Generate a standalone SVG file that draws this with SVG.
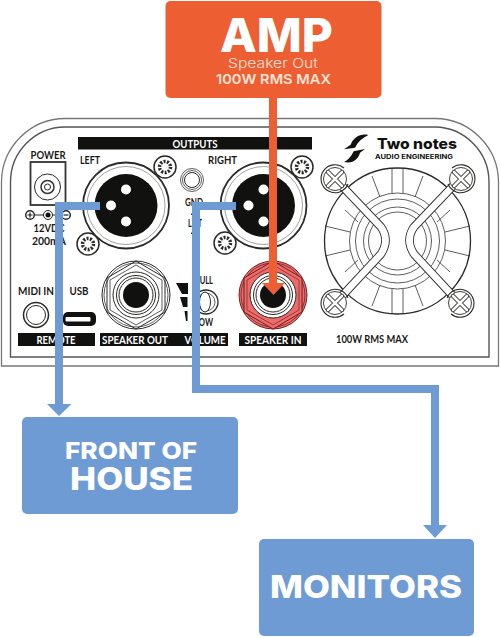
<svg xmlns="http://www.w3.org/2000/svg" xmlns:xlink="http://www.w3.org/1999/xlink" width="500" height="637" viewBox="0 0 500 637">
<style>
.ln{fill:none;stroke:#2a2a28;stroke-width:1}
.fn{fill:none;stroke:#333;stroke-width:.8}
.ln2{fill:#fff;stroke:#2a2a28;stroke-width:1.5}
.bar{fill:#111110}
.t{font-family:"Lato","Open Sans","Liberation Sans",sans-serif;font-weight:700;fill:#1a1a18;font-size:11px;text-anchor:middle}
.w{fill:#fff}
.box{font-family:"Inter","Liberation Sans",sans-serif;font-weight:800;fill:#fff;text-anchor:middle}
.blue{fill:none;stroke:#6f9bd5;stroke-width:8}
.blueh{fill:#6f9bd5}
</style>
<defs>
<g id="tab"><circle r="11" class="ln2"/><circle r="5.5" fill="none" stroke="#2a2a28" stroke-width="3.5" stroke-dasharray="2 1.4"/><circle r="1.5" fill="#fff"/></g>
<g id="xlr">
<circle r="43" fill="#fff" stroke="#2a2a28" stroke-width="1.8"/><circle r="39" fill="none" stroke="#777" stroke-width=".7"/>
<circle r="31.5" fill="#111110"/>
<circle cx="0" cy="-16" r="5" fill="#fff"/><circle cx="-15" cy="0" r="5" fill="#fff"/><circle cx="0" cy="16" r="5" fill="#fff"/>
</g>
<g id="hexjack">
<circle r="34" class="ln"/><circle r="32" class="fn"/>
<path d="M0-34 29-17V17L0 34-29 17V-17Z" class="ln" stroke-width="1.4"/>
<path d="M0-30 26-15V15L0 30-26 15V-15Z" class="fn"/>
<circle r="23" fill="#fff" stroke="#2a2a28"/><circle r="19.5" class="ln"/><circle r="17" class="ln"/>
<circle r="13" fill="#111110"/>
</g>
<g id="fs">
<path d="M9-11A14 14 0 1 0 13 5" fill="none" stroke="#2a2a28" stroke-width="1.1"/><circle r="11.5" fill="#fff" stroke="#2a2a28" stroke-width=".9"/>
<path d="M-7-7 7 7M-7 7 7-7" stroke="#2a2a28" stroke-width="4.4" stroke-linecap="round" fill="none"/>
<path d="M-7-7 7 7M-7 7 7-7" stroke="#fff" stroke-width="2.6" stroke-linecap="round" fill="none"/>
</g>
</defs>

<g id="panel">
<path d="M1.5 366V182A64 64 0 0 1 65 118.500H435A64 64 0 0 1 498.500 182V366Z" fill="#fff" stroke="#77777a" stroke-width="1.3"/>
<path d="M10.500 357V182A55 55 0 0 1 65 127H435A55 55 0 0 1 489 182V357Z" fill="#fff" stroke="#555" stroke-width="1.4"/>

<rect class="bar" x="78" y="137" width="234" height="12.500"/>
<text class="t w" x="195" y="147.500" font-size="10.500" textLength="45" lengthAdjust="spacingAndGlyphs">OUTPUTS</text>

<g id="power">
<text class="t" x="48" y="159" textLength="35" lengthAdjust="spacingAndGlyphs">POWER</text>
<rect x="30.500" y="162" width="35" height="43" fill="#fff" stroke="#333" stroke-width="1.800"/>
<circle cx="47.500" cy="187" r="13" class="ln"/><circle cx="47.500" cy="187" r="6.500" fill="none" stroke="#333" stroke-width="1.500"/><circle cx="47.500" cy="187" r="3" class="ln"/>
<path d="M30 215H66" stroke="#222" stroke-width="1.200"/>
<circle cx="30" cy="215" r="4.300" class="ln2"/><path d="M27.500 215h5M30 212.500v5" stroke="#222" stroke-width="1.200"/>
<circle cx="48" cy="215" r="4.500" fill="#fff" stroke="#222"/><circle cx="48" cy="215" r="2.500" fill="#111"/>
<circle cx="66" cy="215" r="4.300" class="ln2"/><path d="M63.500 215h5" stroke="#222" stroke-width="1.200"/>
<text class="t" x="49" y="232" textLength="31" lengthAdjust="spacingAndGlyphs">12VDC</text>
<text class="t" x="49" y="245" textLength="34" lengthAdjust="spacingAndGlyphs">200mA</text>
</g>

<text class="t" x="90" y="164" textLength="20" lengthAdjust="spacingAndGlyphs">LEFT</text>
<text class="t" x="222.500" y="164" textLength="29" lengthAdjust="spacingAndGlyphs">RIGHT</text>

<use xlink:href="#tab" href="#tab" x="165" y="167"/>
<use xlink:href="#tab" href="#tab" x="88" y="244"/>
<use xlink:href="#xlr" href="#xlr" x="126" y="205.500"/>
<use xlink:href="#tab" href="#tab" x="302" y="167"/>
<use xlink:href="#tab" href="#tab" x="225" y="243"/>
<use xlink:href="#xlr" href="#xlr" x="263.500" y="205.500"/>

<g id="ground-lift">
<circle cx="192" cy="180" r="11.500" class="fn"/><circle cx="192" cy="180" r="9.500" class="fn"/><circle cx="192" cy="180" r="7.500" class="ln"/>
<text class="t" x="194" y="206" font-size="9.500" textLength="18" lengthAdjust="spacingAndGlyphs">GND</text>
<path d="M191.500 213.500v1.500M191.500 232.500v1.500" stroke="#333" stroke-width="1"/>
<text class="t" x="195" y="227" font-size="9.500" textLength="14" lengthAdjust="spacingAndGlyphs">LIFT</text>
</g>

<g id="remote">
<text class="t" x="36" y="295" textLength="36" lengthAdjust="spacingAndGlyphs">MIDI IN</text>
<text class="t" x="79" y="295" textLength="19" lengthAdjust="spacingAndGlyphs">USB</text>
<circle cx="36" cy="315" r="12.500" fill="#fff" stroke="#2a2a28" stroke-width="1.500"/><circle cx="36" cy="315" r="9.500" class="ln"/>
<rect x="63" y="312" width="33" height="14" rx="5" fill="#111110"/>
<rect x="65.500" y="317" width="25" height="4.500" rx="1" fill="#fff"/>
<rect class="bar" x="18" y="333" width="77" height="13"/>
<text class="t w" x="56" y="344" textLength="39" lengthAdjust="spacingAndGlyphs">REMOTE</text>
</g>

<use xlink:href="#hexjack" href="#hexjack" x="136" y="295"/>
<g id="volume">
<path d="M176 283H188V294L182 294ZM180 297H187.500V307H183ZM184.500 311H187.500V321H186Z" fill="#111110"/>
<text class="t" x="204" y="284" font-size="10" textLength="18" lengthAdjust="spacingAndGlyphs">PULL</text>
<circle cx="206" cy="302" r="12" fill="#fff" stroke="#2a2a28" stroke-width="1.300"/><circle cx="206" cy="302" r="9" class="fn"/>
<ellipse cx="205" cy="302" rx="5.500" ry="10" fill="#fff" stroke="#2a2a28"/>
<text class="t" x="204" y="326" font-size="10" textLength="18" lengthAdjust="spacingAndGlyphs">LOW</text>
</g>
<rect class="bar" x="100" y="333" width="128" height="13"/>
<text class="t w" x="135" y="344" textLength="66" lengthAdjust="spacingAndGlyphs">SPEAKER OUT</text>
<text class="t w" x="205" y="344" textLength="41" lengthAdjust="spacingAndGlyphs">VOLUME</text>

<g id="speaker-in">
<circle cx="273" cy="295" r="34" fill="#ef6b6b" stroke="#7a2222"/>
<g transform="translate(273 295)">
<circle r="32" fill="none" stroke="#5a1a1a" stroke-width=".7"/>
<path d="M0-34 29-17V17L0 34-29 17V-17Z" fill="#ef6b6b" stroke="#5a1a1a" stroke-width=".9"/>
<path d="M0-30 26-15V15L0 30-26 15V-15Z" fill="#ef6b6b" stroke="#5a1a1a" stroke-width=".6"/>
<circle r="23" fill="#fff" stroke="#2a2a28"/><circle r="19.500" class="ln"/><circle r="17" class="ln"/>
<circle r="13" fill="#111110"/>
</g>
<rect class="bar" x="239" y="333" width="68" height="13"/>
<text class="t w" x="273" y="344" textLength="57" lengthAdjust="spacingAndGlyphs">SPEAKER IN</text>
</g>

<g id="logo">
<g transform="translate(335 130) scale(.3333)" fill="#111110">
<path d="M100 15C75 10 56 22 47 44L27 58 60 53C68 36 82 24 100 15Z"/>
<path d="M90 57 56 64C48 80 40 90 27 96 55 102 70 86 75 68Z"/>
</g>
<text x="377" y="148.500" font-family="Inter,'Liberation Sans',sans-serif" font-weight="800" font-size="14.500" fill="#111110" textLength="80" lengthAdjust="spacingAndGlyphs">Two notes</text>
<text x="375" y="158.500" font-family="Inter,'Liberation Sans',sans-serif" font-weight="700" font-size="6.500" fill="#111110" textLength="78" lengthAdjust="spacingAndGlyphs">AUDIO ENGINEERING</text>
</g>

<g id="fan">
<circle cx="397.500" cy="241" r="73" fill="#fff" stroke="#2a2a28" stroke-width="1.300"/>
<circle cx="397.500" cy="241" r="48" class="fn"/><circle cx="397.500" cy="241" r="42" class="fn"/>
<circle cx="397.500" cy="241" r="34" class="fn"/><circle cx="397.500" cy="241" r="29" class="fn"/>
<path d="M392 168V193M403 168V193M392 289V314M403 289V314M325 226 350 232M325 256 350 250M470 226 445 232M470 256 445 250M372 176 380 197M423 176 415 197M372 306 380 285M423 306 415 285M345 210 358 222M450 210 437 222M345 272 358 260M450 272 437 260" class="fn"/>
<path d="M342 186 381 227Q390 240 381 254L342 296M453 186 414 227Q405 240 414 254L453 296" fill="none" stroke="#2a2a28" stroke-width="8.500" stroke-linejoin="round"/>
<path d="M342 186 381 227Q390 240 381 254L342 296M453 186 414 227Q405 240 414 254L453 296" fill="none" stroke="#fff" stroke-width="6.800" stroke-linejoin="round"/>
<use xlink:href="#fs" href="#fs" x="335" y="179"/>
<use xlink:href="#fs" href="#fs" transform="translate(461 179) scale(-1 1)"/>
<use xlink:href="#fs" href="#fs" transform="translate(335 303) scale(1 -1)"/>
<use xlink:href="#fs" href="#fs" transform="translate(460 303) scale(-1 -1)"/>
</g>
<text class="t" x="372" y="343" textLength="72" lengthAdjust="spacingAndGlyphs">100W RMS MAX</text>
</g>

<g id="connectors">
<path class="blue" d="M100 206H59V405"/>
<path class="blueh" d="M47 404H71.500L59 416Z"/>
<path class="blue" d="M236 206H196V389H435V526"/>
<path class="blueh" d="M423 525H447L435 538Z"/>
<rect x="269" y="97" width="8" height="188" fill="#ed5f33"/>
<path d="M262 283H285L273.500 295Z" fill="#ed5f33"/>
</g>

<g id="amp">
<rect x="165.500" y="1" width="216" height="97" rx="5" fill="#ed5f33"/>
<text class="box" x="276.500" y="52" font-size="47" textLength="113" lengthAdjust="spacingAndGlyphs">AMP</text>
<text x="273" y="68" font-family="Inter,'Liberation Sans',sans-serif" font-weight="300" font-size="13" fill="#fde3d6" text-anchor="middle" textLength="90" lengthAdjust="spacingAndGlyphs">Speaker Out</text>
<text x="273.500" y="84" font-family="Inter,'Liberation Sans',sans-serif" font-weight="600" font-size="13" fill="#fde3d6" text-anchor="middle" textLength="115" lengthAdjust="spacingAndGlyphs">100W RMS MAX</text>
</g>
<g id="front-of-house">
<rect x="22" y="417" width="216" height="97" rx="5" fill="#6f9bd5"/>
<text class="box" x="131" y="459" font-size="23.500" textLength="132" lengthAdjust="spacingAndGlyphs">FRONT OF</text>
<text class="box" x="131.500" y="490" font-size="31.500" textLength="123" lengthAdjust="spacingAndGlyphs">HOUSE</text>
</g>
<g id="monitors">
<rect x="259" y="539" width="215" height="97" rx="5" fill="#6f9bd5"/>
<text class="box" x="366" y="598" font-size="31" textLength="192" lengthAdjust="spacingAndGlyphs">MONITORS</text>
</g>
</svg>
